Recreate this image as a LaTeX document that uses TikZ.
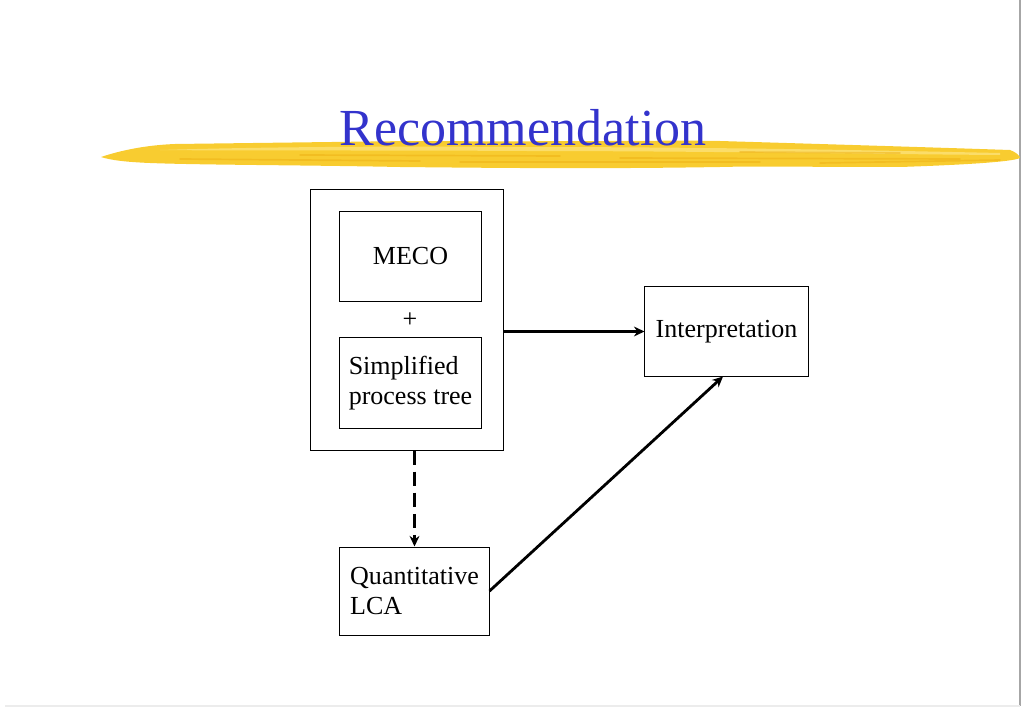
\documentclass[tikz,border=0pt]{standalone}
\usepackage{fontspec}
\setmainfont{Liberation Serif}
\usepackage{tikz}
\usetikzlibrary{arrows.meta,positioning}
\definecolor{titleblue}{RGB}{51,51,204}
\definecolor{brushyellow}{RGB}{248,204,48}
\definecolor{brushlight}{RGB}{252,226,120}
\definecolor{brushdark}{RGB}{238,176,20}

\begin{document}
\begin{tikzpicture}[
		x=0.025cm, y=-0.025cm,
		box/.style={draw, line width=0.7pt, inner sep=0pt, align=left,
			font=\fontsize{18.5}{21.5}\selectfont},
		link/.style={draw, line width=2pt},
		streak/.style={brushdark, line width=1.2pt, line cap=round, opacity=0.5},
		>={Stealth[length=7.5pt,width=7pt]}
		]
		\useasboundingbox (0,0) rectangle (1023,708);
		
		% Le cadre de la diapositive
		\draw[gray!70, line width=0.8pt] (1020,0) -- (1020,706);
		\draw[gray!15, line width=0.8pt] (5,706) -- (1020,706);
		
		% Le coup de pinceau jaune
		\fill[brushyellow] (101,157) .. controls (125,149) and (150,145) .. (175,144)
			-- (410,141) .. controls (560,142) and (680,140) .. (720,141)
			.. controls (820,144) and (920,147) .. (1010,150)
			.. controls (1016,152) and (1020,156) .. (1020,158)
			.. controls (1012,162) and (960,165) .. (900,167)
			.. controls (800,167) and (760,166) .. (720,167)
			.. controls (600,169) and (500,168) .. (400,167)
			.. controls (300,165) and (200,165) .. (150,163)
			.. controls (125,162) and (110,160) .. (101,157) -- cycle;
		\fill[brushlight, opacity=0.8] (160,150) .. controls (260,147) and (380,146) .. (520,147)
			.. controls (700,147) and (860,150) .. (1000,153) -- (1000,155)
			.. controls (860,154) and (700,151) .. (520,151)
			.. controls (380,150) and (260,151) .. (160,150) -- cycle;
		\draw[streak] (180,159) -- (420,161);
		\draw[streak] (300,155) -- (560,156);
		\draw[streak] (460,162) -- (760,162);
		\draw[streak] (620,158) -- (960,159);
		\draw[streak] (740,152) -- (900,153);
		\draw[streak] (820,163) -- (1000,160);
		
		% Le titre
		\node[anchor=base, text=titleblue, font=\fontsize{37}{40}\selectfont] (T) at (523,146) {Recommendation};
		
		% Les boites
		\node[box, minimum width=4.8cm, minimum height=6.5cm] (B) at (407,320) {};
		\node[box, minimum width=3.525cm, minimum height=2.225cm] (M) at (410.5,256.5) {MECO};
		\node[font=\fontsize{18.5}{21.5}\selectfont, inner sep=0pt] (P) at (410,320) {+};
		\node[box, minimum width=3.525cm, minimum height=2.25cm] (S) at (410.5,383) {Simplified\\process tree};
		\node[box, minimum width=4.075cm, minimum height=2.225cm] (I) at (726.5,331.5) {Interpretation};
		\node[box, minimum width=3.725cm, minimum height=2.2cm] (Q) at (414.5,591) {Quantitative\\LCA};
		
		% Les fleches
		\draw[link, ->] (B.east |- I.west) -- (I.west);
		\draw[link, ->, line width=2.4pt, dash pattern=on 10pt off 5pt] (B.south -| Q.north) -- (Q.north);
		\draw[link, ->] (Q.east) -- ([xshift=-2.5pt]I.south);
	\end{tikzpicture}
\end{document}
